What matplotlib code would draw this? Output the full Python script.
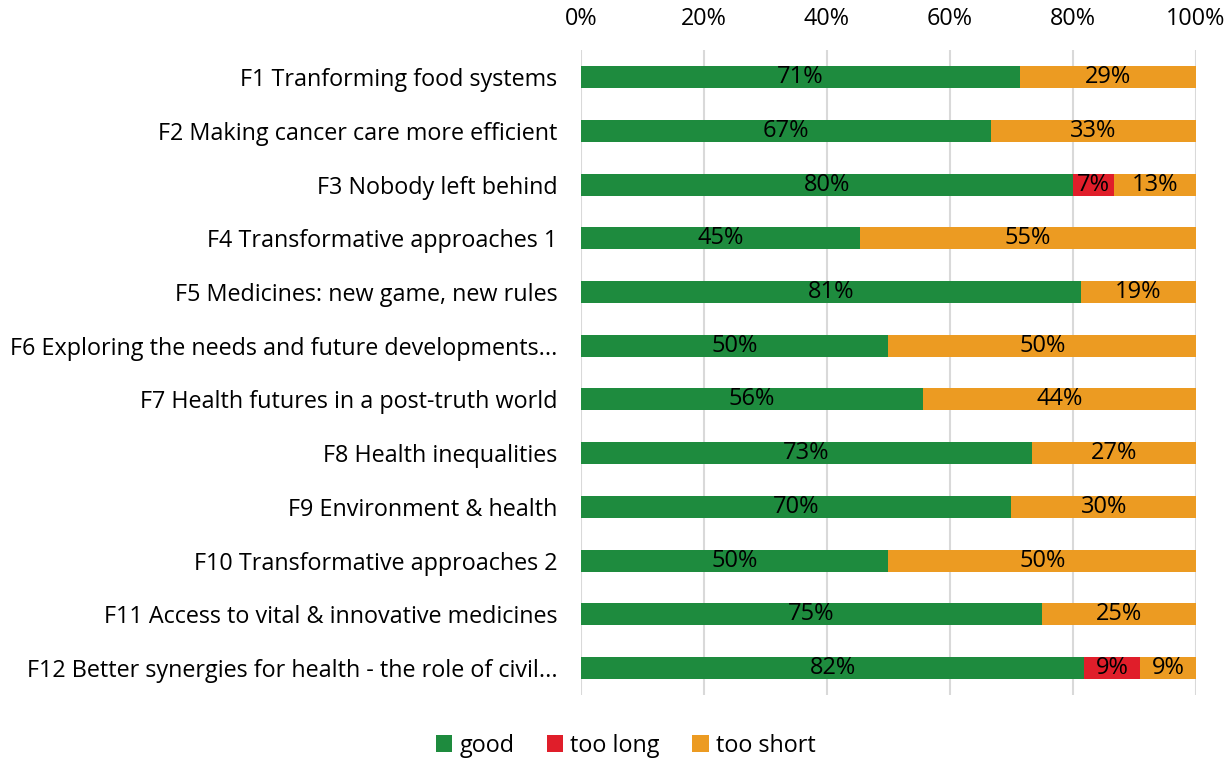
import matplotlib.pyplot as plt
import numpy as np

plt.rcParams['font.family'] = ['Open Sans', 'DejaVu Sans']

# === DATA ===
categories = [
    "F1 Tranforming food systems",
    "F2 Making cancer care more efficient",
    "F3 Nobody left behind",
    "F4 Transformative approaches 1",
    "F5 Medicines: new game, new rules",
    "F6 Exploring the needs and future developments...",
    "F7 Health futures in a post-truth world",
    "F8 Health inequalities",
    "F9 Environment & health",
    "F10 Transformative approaches 2",
    "F11 Access to vital & innovative medicines",
    "F12 Better synergies for health - the role of civil...",
]
good = [71.4, 66.7, 80.0, 45.4, 81.3, 50.0, 55.6, 73.3, 70.0, 50.0, 75.0, 81.8]
too_long = [0, 0, 6.7, 0, 0, 0, 0, 0, 0, 0, 0, 9.1]
too_short = [28.6, 33.3, 13.3, 54.6, 18.7, 50.0, 44.4, 26.7, 30.0, 50.0, 25.0, 9.1]

series = [("good", good, "#1E8B3E"),
          ("too long", too_long, "#E01E2A"),
          ("too short", too_short, "#EC9B22")]

# === PLOT ===
fig = plt.figure(figsize=(12.27, 7.62), dpi=100)
ax = fig.add_axes([0.4735, 0.088, 0.5012, 0.846])

y = np.arange(len(categories))
left = np.zeros(len(categories))
for name, vals, color in series:
    vals = np.array(vals)
    ax.barh(y, vals, left=left, height=0.41, color=color, label=name, zorder=2)
    for yi, l, v in zip(y, left, vals):
        if v > 0:
            ax.text(l + v / 2, yi, f"{v:.0f}%", ha='center', va='center',
                    fontsize=17, color='black', zorder=3)
    left += vals

ax.set_xlim(0, 100)
ax.set_ylim(len(categories) - 0.5, -0.5)
ax.set_yticks(y)
ax.set_yticklabels(categories, fontsize=16.8)
ax.set_xticks(np.arange(0, 101, 20))
ax.set_xticklabels([f"{v}%" for v in range(0, 101, 20)], fontsize=16.8)
ax.xaxis.tick_top()
ax.tick_params(axis='x', length=0, pad=14)
ax.tick_params(axis='y', length=0, pad=17)
ax.grid(True, axis='x', color='#d9d9d9', linewidth=1.5, zorder=0)
for s in ax.spines.values():
    s.set_visible(False)

fig.legend(loc='lower center', bbox_to_anchor=(0.51, -0.022), ncol=3,
           frameon=False, fontsize=16.8, handlelength=0.7, handleheight=0.7,
           handletextpad=0.3, columnspacing=1.4)

plt.savefig("out.png", dpi=100)
